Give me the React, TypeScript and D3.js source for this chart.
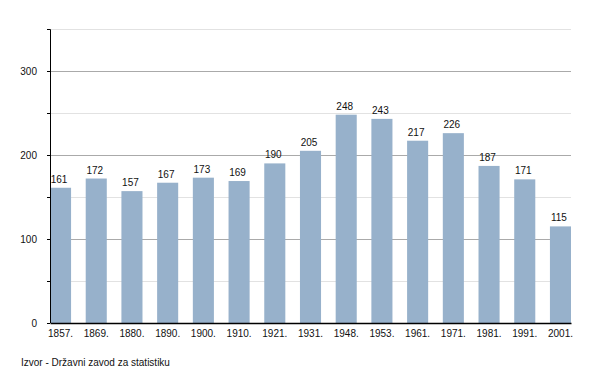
import { useEffect, useRef } from "react";
import * as d3 from "d3";

const years = ["1857.", "1869.", "1880.", "1890.", "1900.", "1910.", "1921.", "1931.", "1948.", "1953.", "1961.", "1971.", "1981.", "1991.", "2001."];
const population = [161, 172, 157, 167, 173, 169, 190, 205, 248, 243, 217, 226, 187, 171, 115];
const majorTicks = [0, 100, 200, 300];
const minorTicks = [50, 150, 250, 350];
const sourceNote = "Izvor - Državni zavod za statistiku";

const WIDTH = 600;
const HEIGHT = 373;
const BAR_COLOR = "#97b1cb";
const FONT = "'Liberation Sans', Arial, sans-serif";

export default function App() {
  const svgRef = useRef<SVGSVGElement>(null);

  useEffect(() => {
    if (!svgRef.current) return;
    const margin = { top: 29, right: 29, bottom: 50, left: 50 };
    const innerW = WIDTH - margin.left - margin.right;
    const innerH = HEIGHT - margin.top - margin.bottom;

    const svg = d3.select(svgRef.current);
    svg.selectAll("*").remove();

    const g = svg.append("g").attr("transform", `translate(${margin.left},${margin.top})`);

    const x = d3.scaleBand<string>().domain(years).range([0, innerW]).paddingInner(0.41).paddingOuter(0);
    const y = d3.scaleLinear().domain([0, 350]).range([innerH, 0]);

    // gridlines
    g.selectAll(".minor")
      .data(minorTicks)
      .join("line")
      .attr("x1", 0)
      .attr("x2", innerW)
      .attr("y1", (d) => Math.round(y(d)) + 0.5)
      .attr("y2", (d) => Math.round(y(d)) + 0.5)
      .attr("stroke", "#e2e2e2");
    g.selectAll(".major")
      .data(majorTicks.filter((d) => d > 0))
      .join("line")
      .attr("x1", 0)
      .attr("x2", innerW)
      .attr("y1", (d) => Math.round(y(d)) + 0.5)
      .attr("y2", (d) => Math.round(y(d)) + 0.5)
      .attr("stroke", "#aaaaaa");

    // bars
    g.selectAll(".bar")
      .data(population)
      .join("rect")
      .attr("x", (_, i) => x(years[i])!)
      .attr("y", (d) => y(d))
      .attr("width", x.bandwidth())
      .attr("height", (d) => innerH - y(d))
      .attr("fill", BAR_COLOR);

    // value labels
    g.selectAll(".val")
      .data(population)
      .join("text")
      .attr("x", (_, i) => x(years[i])! + x.bandwidth() / 2 - 1.5)
      .attr("y", (d) => y(d) - 5)
      .attr("text-anchor", "middle")
      .attr("font-family", FONT)
      .attr("font-size", "10px")
      .attr("fill", "#111")
      .text((d) => d);

    // y axis
    const yAxis = d3
      .axisLeft(y)
      .tickValues([...majorTicks, ...minorTicks])
      .tickSize(3)
      .tickPadding(10)
      .tickFormat((d) => (majorTicks.includes(d as number) ? String(d) : ""));
    g.append("g")
      .call(yAxis)
      .call((a) => {
        a.select(".domain").attr("stroke", "#000").attr("d", `M-3,0.5H0.5V${innerH}`);
        a.selectAll(".tick line").attr("stroke", "#000");
        a.selectAll(".tick text").attr("font-family", FONT).attr("font-size", "10px").attr("fill", "#111");
      });

    // x axis
    g.append("g")
      .attr("transform", `translate(0,${innerH})`)
      .call(d3.axisBottom(x).tickSize(0).tickPadding(7))
      .call((a) => {
        a.select(".domain").attr("stroke", "#000").attr("stroke-width", 1.5);
        a.selectAll(".tick text").attr("font-family", FONT).attr("font-size", "10px").attr("fill", "#111");
      });

    svg.append("text")
      .attr("x", 21)
      .attr("y", 366)
      .attr("font-family", FONT)
      .attr("font-size", "10px")
      .attr("fill", "#111")
      .text(sourceNote);
  }, []);

  return (
    <svg
      ref={svgRef}
      width={WIDTH}
      height={HEIGHT}
      style={{ position: "absolute", left: 0, top: 0, background: "#fff" }}
    />
  );
}
